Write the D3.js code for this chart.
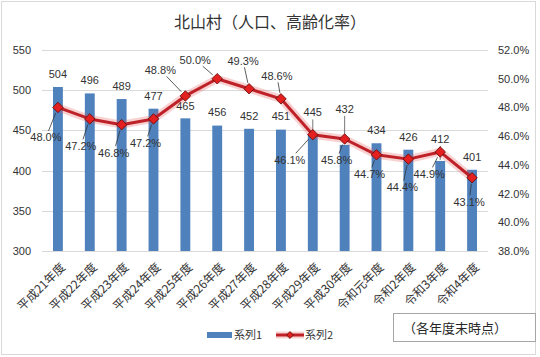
<!DOCTYPE html>
<html>
<head>
<meta charset="utf-8">
<script src="https://cdn.jsdelivr.net/npm/d3@7"></script>
<style>
  html, body { margin: 0; padding: 0; background: #fff; }
  svg { display: block; }
</style>
</head>
<body>
<svg id="chart" width="540" height="357"></svg>
<script>
// ---- data ----
const title = "北山村（人口、高齢化率）";
const categories = ["平成21年度","平成22年度","平成23年度","平成24年度","平成25年度","平成26年度","平成27年度","平成28年度","平成29年度","平成30年度","令和元年度","令和2年度","令和3年度","令和4年度"];
const population = [504, 496, 489, 477, 465, 456, 452, 451, 445, 432, 434, 426, 412, 401];
const agingRate = [48.0, 47.2, 46.8, 47.2, 48.8, 50.0, 49.3, 48.6, 46.1, 45.8, 44.7, 44.4, 44.9, 43.1];
const leftTicks = [300, 350, 400, 450, 500, 550];
const rightTicks = [38, 40, 42, 44, 46, 48, 50, 52];
const seriesNames = ["系列1", "系列2"];
const note = "（各年度末時点）";

// ---- layout config (label placement, not data) ----
const rateLabelOffset = [[-12,30],[-9,27],[-8,28],[-8,24],[-25,-26],[-22,-19],[-6,-28],[-4,-23],[-23,25],[-8,21],[-7,19],[-6,28],[-11,22],[-3,24]];
const popLabelRaise = [13,13,13,13,12,13,13,13,22,36,13,13,22,13];

const svg = d3.select("#chart");
const W = 540, H = 357;
const plot = {left: 42, right: 488, top: 50, bottom: 251};
const numFont = "'Liberation Sans', Arial, sans-serif";
const jpFont = "'Noto Sans CJK JP', 'Noto Sans', sans-serif";
const textColor = "#333";

svg.append("rect").attr("x", 0).attr("y", 0).attr("width", W).attr("height", H).attr("fill", "#fff");
// chart border
svg.append("rect").attr("x", 1.5).attr("y", 1.5).attr("width", 534).attr("height", 353)
  .attr("fill", "none").attr("stroke", "#d9d9d9");

const x = d3.scaleBand().domain(categories).range([plot.left, plot.right])
  .paddingInner(0.69).paddingOuter(0.345);
const yL = d3.scaleLinear().domain([300, 550]).range([plot.bottom, plot.top]);
const yR = d3.scaleLinear().domain([38, 52]).range([plot.bottom, plot.top]);
const cx = d => x(d) + x.bandwidth() / 2;

// gridlines
svg.append("g").selectAll("line").data(leftTicks).join("line")
  .attr("x1", plot.left).attr("x2", plot.right)
  .attr("y1", d => Math.round(yL(d)) + 0.5).attr("y2", d => Math.round(yL(d)) + 0.5)
  .attr("stroke", "#d9d9d9").attr("stroke-width", 1);

// left axis
const axL = d3.axisLeft(yL).tickValues(leftTicks).tickSize(0).tickPadding(0).tickFormat(d3.format("d"));
svg.append("g").attr("transform", `translate(${plot.left - 11},0)`).call(axL)
  .call(g => g.select(".domain").remove())
  .call(g => g.selectAll("text").attr("font-family", numFont).attr("font-size", 11).attr("fill", textColor));

// right axis
const axR = d3.axisRight(yR).tickValues(rightTicks).tickSize(0).tickPadding(0).tickFormat(d => d.toFixed(1) + "%");
svg.append("g").attr("transform", `translate(${plot.right + 10},0)`).call(axR)
  .call(g => g.select(".domain").remove())
  .call(g => g.selectAll("text").attr("font-family", numFont).attr("font-size", 11).attr("fill", textColor));

// bottom category axis
const axB = d3.axisBottom(x).tickSize(0).tickPadding(0);
svg.append("g").attr("transform", `translate(0,${plot.bottom})`).call(axB)
  .call(g => g.select(".domain").remove())
  .call(g => g.selectAll("text")
    .attr("font-family", jpFont).attr("font-size", 12).attr("fill", textColor)
    .attr("text-anchor", "end").attr("dy", "0.35em")
    .attr("transform", "translate(5,14) rotate(-45)"));

// bars
svg.append("g").selectAll("rect").data(population).join("rect")
  .attr("x", (d, i) => x(categories[i]))
  .attr("width", x.bandwidth())
  .attr("y", d => yL(d))
  .attr("height", d => yL(300) - yL(d))
  .attr("fill", "#4f81bd");

// bar labels with leader lines
const popG = svg.append("g");
population.forEach((v, i) => {
  const px = cx(categories[i]);
  const top = yL(v);
  const ly = top - popLabelRaise[i];
  if (popLabelRaise[i] > 16) {
    popG.append("line").attr("x1", px).attr("x2", px)
      .attr("y1", ly + 7).attr("y2", top - 1)
      .attr("stroke", "#555").attr("stroke-width", 0.8);
  }
  popG.append("text").attr("x", px).attr("y", ly).attr("dy", "0.35em")
    .attr("text-anchor", "middle").attr("font-family", numFont).attr("font-size", 11)
    .attr("fill", textColor).text(v);
});

// line series
const linePts = agingRate.map((v, i) => [cx(categories[i]), yR(v)]);
const lineGen = d3.line();
svg.append("path").attr("d", lineGen(linePts)).attr("fill", "none")
  .attr("stroke", "rgba(230,90,90,0.28)").attr("stroke-width", 8).attr("stroke-linejoin", "round");
svg.append("path").attr("d", lineGen(linePts)).attr("fill", "none")
  .attr("stroke", "#be2128").attr("stroke-width", 3).attr("stroke-linejoin", "round");

// leader lines for rate labels
const rateG = svg.append("g");
linePts.forEach((p, i) => {
  const [dx, dy] = rateLabelOffset[i];
  const lx = p[0] + dx, ly = p[1] + dy;
  const len = Math.hypot(dx, dy);
  const t = Math.min(17 / Math.abs(dx || 0.001), 6.5 / Math.abs(dy || 0.001));
  const sx = lx - dx * t, sy = ly - dy * t;
  const ex = p[0] + dx / len * 6, ey = p[1] + dy / len * 6;
  if (len * (1 - t) - 6 > 4) {
    rateG.append("line").attr("x1", sx).attr("y1", sy).attr("x2", ex).attr("y2", ey)
      .attr("stroke", "#333").attr("stroke-width", 0.8);
  }
});

// markers
svg.append("g").selectAll("path").data(linePts).join("path")
  .attr("transform", d => `translate(${d[0]},${d[1]})`)
  .attr("d", d3.symbol(d3.symbolDiamond2, 70)())
  .attr("fill", "#e3201f").attr("stroke", "#5a0a0a").attr("stroke-width", 0.8);

// rate labels
linePts.forEach((p, i) => {
  const [dx, dy] = rateLabelOffset[i];
  rateG.append("text").attr("x", p[0] + dx).attr("y", p[1] + dy).attr("dy", "0.35em")
    .attr("text-anchor", "middle").attr("font-family", numFont).attr("font-size", 11)
    .attr("fill", textColor).text(agingRate[i].toFixed(1) + "%");
});

// title
svg.append("text").attr("x", 270).attr("y", 22).attr("dy", "0.35em").attr("text-anchor", "middle")
  .attr("font-family", jpFont).attr("font-size", 16).attr("fill", "#333").text(title);

// legend
const lg = svg.append("g");
lg.append("rect").attr("x", 207).attr("y", 332).attr("width", 25).attr("height", 6).attr("fill", "#4f81bd");
lg.append("text").attr("x", 234).attr("y", 335).attr("dy", "0.35em").attr("font-family", jpFont)
  .attr("font-size", 11).attr("fill", textColor).text(seriesNames[0]);
lg.append("line").attr("x1", 276).attr("x2", 304).attr("y1", 335).attr("y2", 335)
  .attr("stroke", "rgba(230,90,90,0.28)").attr("stroke-width", 7);
lg.append("line").attr("x1", 276).attr("x2", 304).attr("y1", 335).attr("y2", 335)
  .attr("stroke", "#be2128").attr("stroke-width", 3);
lg.append("path").attr("transform", "translate(290,335)").attr("d", d3.symbol(d3.symbolDiamond2, 30)())
  .attr("fill", "#e3201f").attr("stroke", "#5a0a0a").attr("stroke-width", 0.8);
lg.append("text").attr("x", 305).attr("y", 335).attr("dy", "0.35em").attr("font-family", jpFont)
  .attr("font-size", 11).attr("fill", textColor).text(seriesNames[1]);

// note box
svg.append("rect").attr("x", 393.5).attr("y", 313.5).attr("width", 142).attr("height", 28)
  .attr("fill", "#fff").attr("stroke", "#a6a6a6");
svg.append("text").attr("x", 455).attr("y", 328).attr("dy", "0.35em").attr("text-anchor", "middle")
  .attr("font-family", jpFont).attr("font-size", 13).attr("fill", "#262626").text(note);
</script>
</body>
</html>
